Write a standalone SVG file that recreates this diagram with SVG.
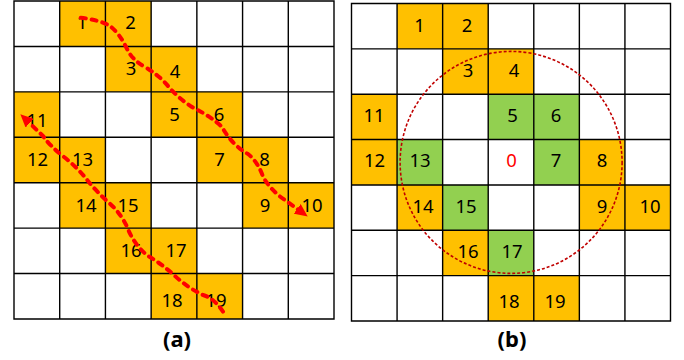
<svg xmlns="http://www.w3.org/2000/svg" width="684" height="360" viewBox="0 0 684 360">
<style>
.o{fill:#FFC000}
.g{fill:#92D050}
.t{font-family:"Noto Sans","Open Sans",sans-serif;font-size:18.5px;fill:#000;text-anchor:middle}
.z{fill:#FF0000}
.grid{stroke:#000;stroke-width:1.4;fill:none}
.cap{font-family:"Noto Sans","Open Sans",sans-serif;font-size:22px;font-weight:bold;text-anchor:middle;fill:#000}
.path{fill:none;stroke:#FF0000;stroke-width:4;stroke-dasharray:5 6;stroke-linecap:round;stroke-linejoin:round}
</style>
<defs>
<marker id="ah" viewBox="0 0 13 12" refX="1" refY="6" markerWidth="13" markerHeight="12" markerUnits="userSpaceOnUse" orient="auto">
<path d="M0,0 L13,6 L0,12 z" fill="#FF0000"/>
</marker>
</defs>
<rect width="684" height="360" fill="#fff"/>

<!-- Grid (a) -->
<g id="grid-a">
<g id="a1"><rect class="o" x="59.71" y="1" width="45.72" height="45.43"/><text class="t" x="82" y="29.3">1</text></g>
<g id="a2"><rect class="o" x="105.43" y="1" width="45.71" height="45.43"/><text class="t" x="130.5" y="29.3">2</text></g>
<g id="a3"><rect class="o" x="105.43" y="46.43" width="45.71" height="45.43"/><text class="t" x="131" y="75">3</text></g>
<g id="a4"><rect class="o" x="151.14" y="46.43" width="45.72" height="45.43"/><text class="t" x="175" y="78.3">4</text></g>
<g id="a11"><rect class="o" x="14" y="91.86" width="45.71" height="45.43"/><text class="t" x="37" y="127">11</text></g>
<g id="a5"><rect class="o" x="151.14" y="91.86" width="45.72" height="45.43"/><text class="t" x="174.5" y="120.7">5</text></g>
<g id="a6"><rect class="o" x="196.86" y="91.86" width="45.71" height="45.43"/><text class="t" x="219" y="120.7">6</text></g>
<g id="a12"><rect class="o" x="14" y="137.29" width="45.71" height="45.42"/><text class="t" x="37.5" y="166">12</text></g>
<g id="a13"><rect class="o" x="59.71" y="137.29" width="45.72" height="45.42"/><text class="t" x="82.5" y="166">13</text></g>
<g id="a7"><rect class="o" x="196.86" y="137.29" width="45.71" height="45.42"/><text class="t" x="219.5" y="166">7</text></g>
<g id="a8"><rect class="o" x="242.57" y="137.29" width="45.72" height="45.42"/><text class="t" x="264.5" y="166">8</text></g>
<g id="a14"><rect class="o" x="59.71" y="182.71" width="45.72" height="45.43"/><text class="t" x="86" y="211.7">14</text></g>
<g id="a15"><rect class="o" x="105.43" y="182.71" width="45.71" height="45.43"/><text class="t" x="128" y="211.7">15</text></g>
<g id="a9"><rect class="o" x="242.57" y="182.71" width="45.72" height="45.43"/><text class="t" x="265" y="211.7">9</text></g>
<g id="a10"><rect class="o" x="288.29" y="182.71" width="45.71" height="45.43"/><text class="t" x="312" y="212">10</text></g>
<g id="a16"><rect class="o" x="105.43" y="228.14" width="45.71" height="45.43"/><text class="t" x="131" y="256.7">16</text></g>
<g id="a17"><rect class="o" x="151.14" y="228.14" width="45.72" height="45.43"/><text class="t" x="176" y="257">17</text></g>
<g id="a18"><rect class="o" x="151.14" y="273.57" width="45.72" height="45.43"/><text class="t" x="172" y="306.7">18</text></g>
<g id="a19"><rect class="o" x="196.86" y="273.57" width="45.71" height="45.43"/><text class="t" x="216" y="307">19</text></g>
<path class="grid" d="M14,1 H334 V319 H14 Z M59.71,1 V319 M105.43,1 V319 M151.14,1 V319 M196.86,1 V319 M242.57,1 V319 M288.29,1 V319 M14,46.43 H334 M14,91.86 H334 M14,137.29 H334 M14,182.71 H334 M14,228.14 H334 M14,273.57 H334"/>
</g>

<!-- Grid (b) -->
<g id="grid-b">
<g id="b1"><rect class="o" x="397.07" y="3.5" width="45.57" height="45.36"/><text class="t" x="419.5" y="31.7">1</text></g>
<g id="b2"><rect class="o" x="442.64" y="3.5" width="45.57" height="45.36"/><text class="t" x="467" y="31.7">2</text></g>
<g id="b3"><rect class="o" x="442.64" y="48.86" width="45.57" height="45.35"/><text class="t" x="468" y="76.7">3</text></g>
<g id="b4"><rect class="o" x="488.21" y="48.86" width="45.58" height="45.35"/><text class="t" x="514" y="76.7">4</text></g>
<g id="b11"><rect class="o" x="351.5" y="94.21" width="45.57" height="45.36"/><text class="t" x="374" y="121.7">11</text></g>
<g id="b5"><rect class="g" x="488.21" y="94.21" width="45.58" height="45.36"/><text class="t" x="512.5" y="121.7">5</text></g>
<g id="b6"><rect class="g" x="533.79" y="94.21" width="45.57" height="45.36"/><text class="t" x="556" y="121.7">6</text></g>
<g id="b12"><rect class="o" x="351.5" y="139.57" width="45.57" height="45.36"/><text class="t" x="374.5" y="166.7">12</text></g>
<g id="b13"><rect class="g" x="397.07" y="139.57" width="45.57" height="45.36"/><text class="t" x="420" y="166.7">13</text></g>
<g id="b0"><text class="t z" x="511.5" y="166.7">0</text></g>
<g id="b7"><rect class="g" x="533.79" y="139.57" width="45.57" height="45.36"/><text class="t" x="556" y="166.7">7</text></g>
<g id="b8"><rect class="o" x="579.36" y="139.57" width="45.57" height="45.36"/><text class="t" x="602" y="166.7">8</text></g>
<g id="b14"><rect class="o" x="397.07" y="184.93" width="45.57" height="45.36"/><text class="t" x="423" y="213.3">14</text></g>
<g id="b15"><rect class="g" x="442.64" y="184.93" width="45.57" height="45.36"/><text class="t" x="466" y="213.3">15</text></g>
<g id="b9"><rect class="o" x="579.36" y="184.93" width="45.57" height="45.36"/><text class="t" x="602" y="213.3">9</text></g>
<g id="b10"><rect class="o" x="624.93" y="184.93" width="45.57" height="45.36"/><text class="t" x="650" y="213.3">10</text></g>
<g id="b16"><rect class="o" x="442.64" y="230.29" width="45.57" height="45.35"/><text class="t" x="468" y="258.3">16</text></g>
<g id="b17"><rect class="g" x="488.21" y="230.29" width="45.58" height="45.35"/><text class="t" x="512" y="258.3">17</text></g>
<g id="b18"><rect class="o" x="488.21" y="275.64" width="45.58" height="45.36"/><text class="t" x="509" y="308.3">18</text></g>
<g id="b19"><rect class="o" x="533.79" y="275.64" width="45.57" height="45.36"/><text class="t" x="555" y="308.3">19</text></g>
<path class="grid" d="M351.5,3.5 H670.5 V321 H351.5 Z M397.07,3.5 V321 M442.64,3.5 V321 M488.21,3.5 V321 M533.79,3.5 V321 M579.36,3.5 V321 M624.93,3.5 V321 M351.5,48.86 H670.5 M351.5,94.21 H670.5 M351.5,139.57 H670.5 M351.5,184.93 H670.5 M351.5,230.29 H670.5 M351.5,275.64 H670.5"/>
</g>

<!-- Connectors -->
<g id="connectors">
<path class="path" marker-end="url(#ah)" d="M80.7,17.7 Q100,20 110,26 Q120,34 126.7,48.3 Q132,60 145,67 Q160,76 168,86 Q178,98 192,107 Q212,117 222,127 Q232,145 248,154 Q258,162 263,176.7 Q270,189 282,198 L298,209.5"/>
<path class="path" marker-end="url(#ah)" d="M223,311.7 Q214,298 203,295 Q188,288 175,276 Q162,264 148,256 Q134,245 127,226.7 Q120,212 108,202 Q96,191 88,181 Q78,168 64,157 Q50,146 43,136 L29,122.5"/>
<circle cx="511.1" cy="162.4" r="111" fill="none" stroke="#C00000" stroke-width="1.6" stroke-dasharray="3 2"/>
</g>

<text class="cap" x="177" y="347">(a)</text>
<text class="cap" x="512" y="347">(b)</text>
</svg>
